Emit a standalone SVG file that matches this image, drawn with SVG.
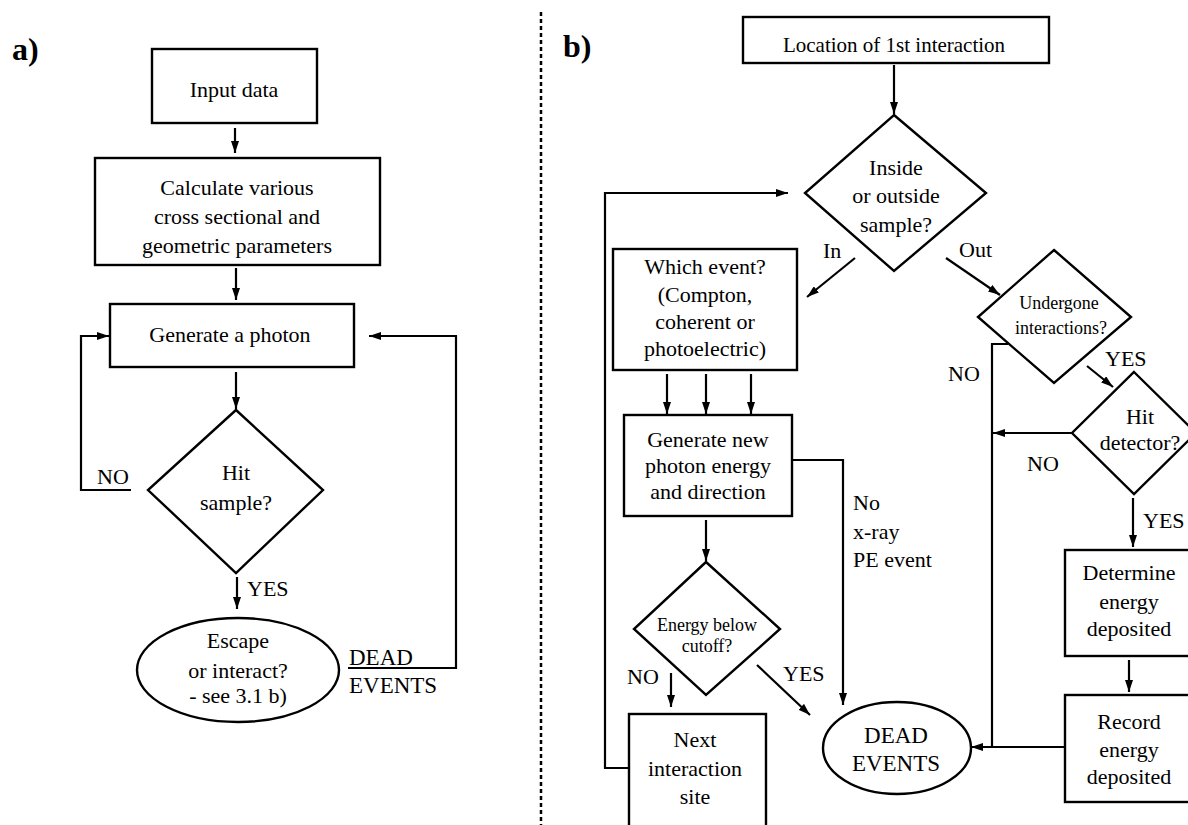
<svg xmlns="http://www.w3.org/2000/svg" width="1188" height="825" viewBox="0 0 1188 825">
<defs>
<marker id="ah" viewBox="0 0 12 8" refX="12" refY="4" markerWidth="12" markerHeight="8" markerUnits="userSpaceOnUse" orient="auto">
<path d="M0,0 L12,4 L0,8 Z" fill="#000"/>
</marker>
<style>
.n rect,.n polygon,.n ellipse{fill:#fff;stroke:#000;stroke-width:2.4}
.c path,.c line{fill:none;stroke:#000;stroke-width:2.2}
.a{marker-end:url(#ah)}
text{font-family:"Liberation Serif","Times New Roman",serif;font-size:22px;fill:#000}
.m{text-anchor:middle}
.s{font-size:18px}
.h{font-size:32px;font-weight:bold}
.d{font-size:23px}
.sep{stroke:#000;stroke-width:2.5;stroke-dasharray:4 3;fill:none}
</style>
</defs>
<rect width="1188" height="825" fill="#fff"/>
<line class="sep" x1="541" y1="12" x2="541" y2="825"/>
<text class="h" x="12" y="60">a)</text>
<text class="h" x="563" y="57">b)</text>

<g id="connectors" class="c">
<line class="a" x1="235" y1="128" x2="235" y2="153"/>
<line class="a" x1="236" y1="268" x2="236" y2="300"/>
<line class="a" x1="236" y1="372" x2="236" y2="409"/>
<path class="a" d="M131,490 H81 V336 H109"/>
<line class="a" x1="237" y1="577" x2="237" y2="609"/>
<path class="a" d="M348,668 H456 V336 H369"/>
<line class="a" x1="894" y1="65" x2="894" y2="114"/>
<path class="a" d="M629,768 H605 V193 H788"/>
<line class="a" x1="855" y1="258" x2="807" y2="297"/>
<line class="a" x1="946" y1="258" x2="1000" y2="295"/>
<line class="a" x1="667" y1="374" x2="667" y2="414"/>
<line class="a" x1="706" y1="374" x2="706" y2="414"/>
<line class="a" x1="751" y1="374" x2="751" y2="414"/>
<path class="a" d="M792,460 H843 V705"/>
<line class="a" x1="706" y1="520" x2="706" y2="561"/>
<line class="a" x1="671" y1="673" x2="671" y2="707"/>
<line class="a" x1="757" y1="665" x2="810" y2="715"/>
<path d="M1008,344 H992 V747"/>
<line class="a" x1="1065" y1="747" x2="971" y2="747"/>
<line class="a" x1="1072" y1="433" x2="993" y2="433"/>
<line class="a" x1="1087" y1="366" x2="1113" y2="387"/>
<line class="a" x1="1133" y1="498" x2="1133" y2="547"/>
<line class="a" x1="1129" y1="660" x2="1129" y2="692"/>
</g>

<g id="labels">
<text x="97" y="484">NO</text>
<text x="247" y="596">YES</text>
<text class="d" x="349" y="665">DEAD</text>
<text class="d" x="349" y="693">EVENTS</text>
<text x="823" y="258">In</text>
<text x="959" y="257">Out</text>
<text x="853" y="510">No</text>
<text x="853" y="539">x-ray</text>
<text x="853" y="567">PE event</text>
<text x="627" y="684">NO</text>
<text x="783" y="681">YES</text>
<text x="948" y="381">NO</text>
<text x="1105" y="366">YES</text>
<text x="1027" y="471">NO</text>
<text x="1143" y="528">YES</text>
</g>

<g class="n">
<g id="input">
<rect x="152" y="49" width="165" height="74"/>
<text class="m" x="234" y="97">Input data</text>
</g>
<g id="calculate">
<rect x="95" y="158" width="285" height="107"/>
<text class="m" x="237" y="195">Calculate various</text>
<text class="m" x="237" y="224">cross sectional and</text>
<text class="m" x="237" y="253">geometric parameters</text>
</g>
<g id="generate">
<rect x="110" y="304" width="244" height="63"/>
<text class="m" x="230" y="342">Generate a photon</text>
</g>
<g id="hit-sample">
<polygon points="236,410 323,490 236,573 148,490"/>
<text class="m" x="236" y="480">Hit</text>
<text class="m" x="236" y="510">sample?</text>
</g>
<g id="escape">
<ellipse cx="238" cy="670" rx="101" ry="52"/>
<text class="m" x="238" y="648">Escape</text>
<text class="m" x="238" y="678">or interact?</text>
<text class="m" x="238" y="703">- see 3.1 b)</text>
</g>

<g id="location">
<rect x="743" y="17" width="306" height="46"/>
<text class="m" x="894" y="52" style="font-size:21px">Location of 1st interaction</text>
</g>
<g id="inside">
<polygon points="894,115 986,193 894,271 805,193"/>
<text class="m" x="896" y="175">Inside</text>
<text class="m" x="896" y="203">or outside</text>
<text class="m" x="896" y="232">sample?</text>
</g>
<g id="which-event">
<rect x="613" y="249" width="184" height="121"/>
<text class="m" x="705" y="274">Which event?</text>
<text class="m" x="705" y="302">(Compton,</text>
<text class="m" x="705" y="329">coherent or</text>
<text class="m" x="705" y="356">photoelectric)</text>
</g>
<g id="generate-new">
<rect x="624" y="415" width="168" height="101"/>
<text class="m" x="708" y="447">Generate new</text>
<text class="m" x="708" y="473">photon energy</text>
<text class="m" x="708" y="499">and direction</text>
</g>
<g id="energy-cutoff">
<polygon points="706,562 780,629 706,695 634,629"/>
<text class="m s" x="707" y="631">Energy below</text>
<text class="m s" x="707" y="652">cutoff?</text>
</g>
<g id="next-site">
<rect x="629" y="714" width="137" height="130"/>
<text class="m" x="695" y="747">Next</text>
<text class="m" x="695" y="776">interaction</text>
<text class="m" x="695" y="804">site</text>
</g>
<g id="dead-events">
<ellipse cx="897" cy="748" rx="74" ry="46"/>
<text class="m d" x="896" y="743">DEAD</text>
<text class="m d" x="896" y="771">EVENTS</text>
</g>
<g id="undergone">
<polygon points="1054,250 1131,317 1054,383 978,317"/>
<text class="m s" x="1059" y="309">Undergone</text>
<text class="m s" x="1061" y="334">interactions?</text>
</g>
<g id="hit-detector">
<polygon points="1134,372 1196,433 1134,494 1072,433"/>
<text class="m" x="1140" y="424">Hit</text>
<text class="m" x="1140" y="450">detector?</text>
</g>
<g id="determine">
<rect x="1065" y="550" width="128" height="106"/>
<text class="m" x="1129" y="580">Determine</text>
<text class="m" x="1129" y="609">energy</text>
<text class="m" x="1129" y="636">deposited</text>
</g>
<g id="record">
<rect x="1065" y="695" width="128" height="107"/>
<text class="m" x="1129" y="729">Record</text>
<text class="m" x="1129" y="757">energy</text>
<text class="m" x="1129" y="784">deposited</text>
</g>
</g>
</svg>
